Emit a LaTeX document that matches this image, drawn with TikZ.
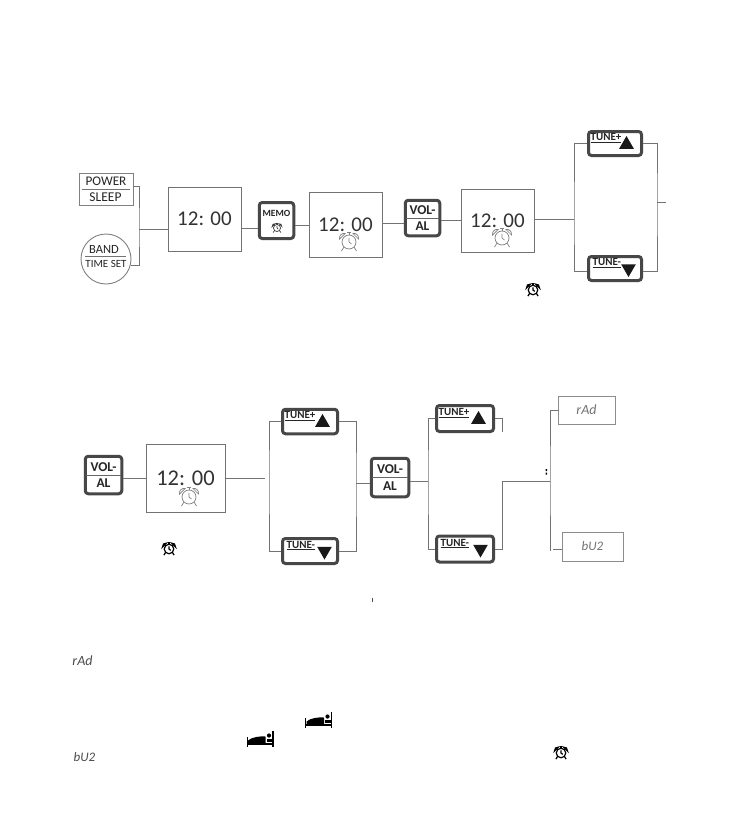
\documentclass[tikz,border=0pt]{standalone}
\usepackage{fontspec}
\setmainfont{Carlito}
\usetikzlibrary{positioning,shapes.geometric}
\newcommand{\fsz}[1]{\fontsize{#1}{#1}\selectfont}
\tikzset{
  wire/.style={draw=black!55,line width=0.9pt},
  dispbox/.style={draw=black!55,line width=0.9pt,inner sep=0pt,text=black!80,font=\fsz{21}},
  lcdbox/.style={draw=black!45,line width=0.8pt,inner sep=0pt,text=black!55,font=\fsz{14}\itshape},
  lcdtext/.style={inner sep=0pt,text=black!70,font=\fsz{14}\itshape},
  keybox/.style={draw=black!72,line width=3pt,rounded corners=3pt,inner sep=0pt,fill=white},
  plainbox/.style={draw=black!50,line width=0.9pt,inner sep=0pt},
  keytext/.style={inner sep=0pt,text=black!85},
  triup/.style={regular polygon,regular polygon sides=3,fill=black!90,inner sep=0pt,minimum size=17pt},
  tridown/.style={triup,regular polygon rotate=180},
  clockbig/.style={draw=black!50,line width=0.7pt,scale=1},
  clocksmall/.style={draw=black,line width=1.2pt,scale=0.68},
  alarmclock/.pic={
    \draw[pic actions] (0,0) circle (7);
    \draw[pic actions] (0,-4) -- (0,0) -- (2.5,2);
    \draw[pic actions] (-9.5,-3) .. controls (-10,-7) and (-7,-9) .. (-4,-8.5) -- cycle;
    \draw[pic actions] (9.5,-3) .. controls (10,-7) and (7,-9) .. (4,-8.5) -- cycle;
    \draw[pic actions] (0,-7) -- (0,-9) (-2,-9.5) -- (2,-9.5);
    \draw[pic actions] (-5,5) -- (-7.5,9) (5,5) -- (7.5,9);
  },
  bedicon/.pic={
    \fill[pic actions] (-13.5,-2.5) rectangle (-12.3,8);
    \fill[pic actions] (12.3,-8) rectangle (13.5,8);
    \fill[pic actions] (-13,3.8) rectangle (13,5.8);
    \fill[pic actions] (-12,3.8) -- (-12,1.5) .. controls (-8,-2) and (0,-3) .. (5.5,-2.5) -- (5.5,3.8) -- cycle;
    \fill[pic actions] (9,-3.5) circle (2.1);
    \fill[pic actions] (6.5,0) rectangle (12,2.8);
  }
}
\begin{document}
\begin{tikzpicture}[x=1pt,y=-1pt]
  \path[use as bounding box,fill=white] (0,0) rectangle (737,822);

  \node[plainbox,minimum width=54pt,minimum height=32pt] (powerkey) at (106,189) {};
  \node[keytext,font=\fsz{13.2}] (powertext) at (106,181.5) {POWER};
  \node[keytext,font=\fsz{13.5}] (sleeptext) at (105.5,197) {SLEEP};
  \draw[wire] ([xshift=3pt]powerkey.west) -- ([xshift=-3pt]powerkey.east);
  \node[plainbox,circle,minimum size=50pt] (bandkey) at (106,259) {};
  \node[keytext,font=\fsz{12.5}] (bandtext) at (104,249) {BAND};
  \node[keytext,font=\fsz{11}] (timetext) at (106,264) {TIME SET};
  \draw[wire] ([xshift=-21pt]bandkey.center) ++(0,-3) -- ++(41,0);

  \node[dispbox,minimum width=73pt,minimum height=64pt] (dispA) at (204.5,219) {12: 00\hspace{5pt}};
  \node[dispbox,minimum width=73pt,minimum height=65pt] (dispB) at (345.5,224.5) {12: 00\hspace{5pt}};
  \node[dispbox,minimum width=73pt,minimum height=63pt] (dispC) at (497.5,220.5) {12: 00\hspace{5pt}};
  \node[dispbox,minimum width=79pt,minimum height=68pt,font=\fsz{22.5}] (dispD) at (185.5,478) {12: 00\hspace{7pt}};
  \pic[clockbig] (clockB) at (349,242) {alarmclock};
  \pic[clockbig] (clockC) at (502,238) {alarmclock};
  \pic[clockbig] (clockD) at (189,497) {alarmclock};
  \pic[clocksmall] (clockE) at (533,290) {alarmclock};
  \pic[clocksmall] (clockF) at (169,549) {alarmclock};
  \pic[clocksmall] (clockG) at (561,753) {alarmclock};

  \node[keybox,minimum width=34.5pt,minimum height=36pt] (memokey) at (276.5,220.5) {};
  \node[keytext,font=\fsz{9.5}\bfseries] (memotext) at (276.5,213) {MEMO};
  \pic[draw=black!80,line width=0.7pt,scale=0.5] (memoclock) at (277,228) {alarmclock};

  \foreach \nm/\x/\y/\w/\h in {volA/422.5/218/34.5/35.5,volB/103.5/475/36.5/37.5,volC/390/477.5/37.5/38.5}{
    \node[keybox,minimum width=\w pt,minimum height=\h pt] (\nm) at (\x,\y) {};
    \node[keytext,font=\fsz{13.5}\bfseries] (\nm-top) at (\x,\y-8) {VOL-};
    \node[keytext,font=\fsz{13.5}\bfseries] (\nm-bot) at (\x,\y+8.5) {AL};
    \draw[black!60,line width=0.8pt] ([xshift=2pt]\nm.west) -- ([xshift=-2pt]\nm.east);
  }
  \foreach \nm/\x/\y/\w/\h in {upA/615/143.5/53/24,upB/310/421.5/55/24.5,upC/465/418.5/57/26}{
    \node[keybox,minimum width=\w pt,minimum height=\h pt] (\nm) at (\x,\y) {};
    \node[keytext,font=\fsz{11}\bfseries,anchor=west] (\nm-text) at ([xshift=3.5pt]\nm.west |- \x,\y-5.5) {\underline{TUNE+}};
    \node[triup] (\nm-arrow) at (\x+\w/2-15,\y+1) {};
  }
  \foreach \nm/\x/\y/\w/\h in {downA/615/268.5/53/24,downB/310/551/55/25,downC/465/549/57/26}{
    \node[keybox,minimum width=\w pt,minimum height=\h pt] (\nm) at (\x,\y) {};
    \node[keytext,font=\fsz{11}\bfseries,anchor=west] (\nm-text) at ([xshift=5.5pt]\nm.west |- \x,\y-5.5) {\underline{TUNE-}};
    \node[tridown] (\nm-arrow) at (\x+\w/2-13,\y) {};
  }

  \node[lcdbox,minimum width=57pt,minimum height=28pt] (radbox) at (586.5,410) {rAd\hspace{6pt}};
  \node[lcdbox,minimum width=61pt,minimum height=29pt,font=\fsz{13}\itshape] (busbox) at (592.5,546.5) {bU2};
  \node[lcdtext] (radtext) at (82.5,661) {rAd};
  \node[lcdtext,font=\fsz{13}\itshape] (bustext) at (84.5,757) {bU2};
  \pic[fill=black] (bedA) at (318.5,720) {bedicon};
  \pic[fill=black] (bedB) at (260,739) {bedicon};

  \coordinate (jA) at (139,229);
  \coordinate (jB) at (247,228);
  \coordinate (jC) at (301,225);
  \coordinate (jD) at (391,223);
  \coordinate (jE) at (450,220);
  \coordinate (jF) at (574,219);
  \coordinate (jG) at (657,202);
  \coordinate (endG) at (666,202);
  \coordinate (jH) at (135,478);
  \coordinate (jI) at (269,478);
  \coordinate (jJ) at (356,483);
  \coordinate (jK) at (428,481);
  \coordinate (jL) at (502,481);
  \coordinate (jM) at (550,481);
  \coordinate (stubC) at (502,432);
  \coordinate (stubM) at (550,551);
  \coordinate (stubN) at (553,549);

  \draw[wire] ([yshift=3pt]powerkey.east) -| (jA) |- (bandkey.345);
  \draw[wire] (jA) -- (dispA.west |- jA);
  \draw[wire] (dispA.east |- jB) -- (memokey.west |- jB);
  \draw[wire] (memokey.east |- jC) -- (dispB.west |- jC);
  \draw[wire] (dispB.east |- jD) -- (volA.west |- jD);
  \draw[wire] (volA.east |- jE) -- (dispC.west |- jE);
  \draw[wire] (dispC.east |- jF) -- (jF);
  \draw[wire] (upA.west) -| (jF) |- ([yshift=-3pt]downA.west);
  \draw[wire] (upA.east) -| (jG) |- ([yshift=-2.5pt]downA.east);
  \draw[wire] (jG) -- (endG);
  \draw[wire] (volB.east |- jH) -- (dispD.west |- jH);
  \draw[wire] (dispD.east |- jI) -- ([xshift=-4pt]jI);
  \draw[wire] (upB.west) -| (jI) |- (downB.west);
  \draw[wire] (upB.east) -| (jJ) |- (downB.east);
  \draw[wire] (jJ) -- (volC.west |- jJ);
  \draw[wire] (volC.east |- jK) -- (jK);
  \draw[wire] (upC.west) -| (jK) |- (downC.west);
  \draw[wire] (upC.east) -| (stubC);
  \draw[wire] (downC.east) -| (jL) -- (jM);
  \draw[wire] (radbox.west) -| (jM) |- (stubM);
  \draw[wire] (stubN) -- (busbox.west |- stubN);

  \draw[black!70,line width=0.8pt] (372,598) -- (372,602);
  \fill[black] (545.5,469) rectangle (547,471) (545.5,472.5) rectangle (547,474.5);
\end{tikzpicture}
\end{document}
